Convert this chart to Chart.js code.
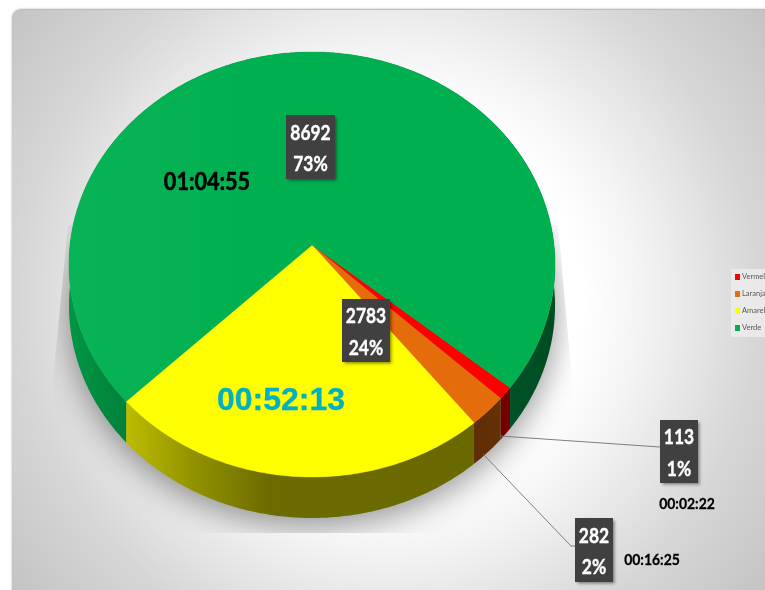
<!DOCTYPE html>
<html><head><meta charset="utf-8">
<style>html,body{margin:0;padding:0;background:#fff;overflow:hidden}canvas{display:block}</style>
<script src="https://cdn.jsdelivr.net/npm/chart.js@4"></script>
</head><body><canvas id="c" width="765" height="590"></canvas>
<script>
const categories = ['Vermelho','Laranja','Amarelo','Verde'];
const counts = [113,282,2783,8692];
const percents = ['1%','2%','24%','73%'];
const durations = ['00:02:22','00:16:25','00:52:13','01:04:55'];
const colors = ['#ff0000','#e46c0a','#ffff00','#00b050'];

// perspective of the disc
const AP = {x:312,y:245,a:242,b:210.7,k:-0.0918,depth:41};
const proj = (t)=>{const u=Math.cos(t),v=Math.sin(t),w=1+AP.k*v;return [AP.x+AP.a*u/w,AP.y+AP.b*v/w];};
function mul(hex,m){const n=parseInt(hex.slice(1),16);return `rgb(${Math.round((n>>16&255)*m)},${Math.round((n>>8&255)*m)},${Math.round((n&255)*m)})`;}
const wallStops=[[69,.85],[125,.74],[190,.58],[270,.42],[470,.41],[510,.46],[555,.43]];
function rim(ctx,s,e,dy,rev){
  const n=Math.max(4,Math.ceil((e-s)/0.01));
  for(let i=0;i<=n;i++){const t=rev?e-(e-s)*i/n:s+(e-s)*i/n;const p=proj(t);ctx.lineTo(p[0],p[1]+dy);}
}
function whole(ctx,dy){ctx.beginPath();rim(ctx,0,Math.PI*2,dy);ctx.closePath();}
function squeezed(ctx,text,x,y,sx,heavy){
  ctx.save();ctx.translate(x,y);ctx.scale(sx,1);ctx.fillText(text,0,0);
  if(heavy){ctx.lineWidth=heavy;ctx.strokeStyle=ctx.fillStyle;ctx.strokeText(text,0,0);}
  ctx.restore();
}

const boxes=[
 {i:0,x:660,y:420,w:38,h:63},{i:1,x:575,y:518,w:38,h:64},
 {i:2,x:342,y:299,w:48,h:63},{i:3,x:286,y:115,w:49,h:64}];
const timeTexts=[
 {i:0,x:687,y:504,font:'bold 15px Lato',color:'#000',sx:.93,heavy:.3},
 {i:1,x:652,y:560,font:'bold 15px Lato',color:'#000',sx:.93,heavy:.3},
 {i:2,x:281,y:401,font:'bold 32px "Liberation Sans"',color:'#00b0c4',sx:1,heavy:.3},
 {i:3,x:207,y:182,font:'bold 24px Lato',color:'#000',sx:.9,heavy:.5}];
const leaders=[[[500,436],[660,447]],[[483,454],[571,546],[575,546]]];

const pie3d={
 id:'pie3d',
 beforeDraw(chart){
  const ctx=chart.ctx;
  ctx.save();
  ctx.fillStyle='#fff';ctx.fillRect(0,0,765,590);
  const g=ctx.createRadialGradient(390,300,0,390,300,480);
  g.addColorStop(0,'#ffffff');g.addColorStop(.4,'#ffffff');g.addColorStop(.52,'#f4f4f4');g.addColorStop(.64,'#e6e6e6');g.addColorStop(.77,'#d6d6d6');g.addColorStop(1,'#c3c3c3');
  ctx.beginPath();ctx.roundRect(12,10,800,640,9);
  ctx.shadowColor='rgba(0,0,0,.35)';ctx.shadowBlur=2;ctx.shadowOffsetY=-1;
  ctx.fillStyle=g;ctx.fill();
  ctx.restore();
 },
 beforeDatasetDraw(chart,args){
  const ctx=chart.ctx,arcs=chart.getDatasetMeta(args.index).data;
  // soft shadow, cut to the reference's slanted shadow shape
  ctx.save();
  ctx.beginPath();ctx.moveTo(68,225);ctx.lineTo(558,225);ctx.lineTo(572,380);ctx.lineTo(572,533);ctx.lineTo(53,533);ctx.lineTo(53,380);ctx.closePath();ctx.clip();
  ctx.shadowColor='rgba(0,0,0,.42)';ctx.shadowBlur=32;ctx.shadowOffsetX=2000;ctx.shadowOffsetY=8;
  ctx.translate(-2000,0);whole(ctx,AP.depth);ctx.fillStyle='#000';ctx.fill();
  ctx.restore();
  // side walls
  const wg=(c)=>{const g=ctx.createLinearGradient(69,0,555,0);wallStops.forEach(s=>g.addColorStop((s[0]-69)/486,mul(c,s[1])));return g;};
  arcs.forEach((a,i)=>{
   ctx.beginPath();rim(ctx,a.startAngle,a.endAngle,0);rim(ctx,a.startAngle,a.endAngle,AP.depth,true);ctx.closePath();
   ctx.fillStyle=wg(colors[i]);ctx.fill();
  });
  // top face
  arcs.forEach((a,i)=>{
   ctx.beginPath();ctx.moveTo(AP.x,AP.y);rim(ctx,a.startAngle,a.endAngle,0);ctx.closePath();
   ctx.fillStyle=colors[i];ctx.fill();ctx.strokeStyle=colors[i];ctx.lineWidth=.4;ctx.stroke();
  });
  // faint sheen on the left of the top face
  const sh=ctx.createLinearGradient(69,0,240,0);
  sh.addColorStop(0,'rgba(255,255,255,.035)');sh.addColorStop(1,'rgba(255,255,255,0)');
  whole(ctx,0);ctx.fillStyle=sh;ctx.fill();
  return false;
 },
 afterDatasetsDraw(chart){
  const ctx=chart.ctx;
  ctx.save();
  ctx.strokeStyle='#7f7f7f';ctx.lineWidth=1;
  leaders.forEach(l=>{ctx.beginPath();l.forEach((p,j)=>j?ctx.lineTo(p[0],p[1]):ctx.moveTo(p[0],p[1]));ctx.stroke();});
  ctx.textAlign='center';ctx.textBaseline='middle';
  boxes.forEach(b=>{
   ctx.save();ctx.shadowColor='rgba(0,0,0,.45)';ctx.shadowBlur=3;ctx.shadowOffsetX=1.5;ctx.shadowOffsetY=1.5;
   ctx.fillStyle='#404040';ctx.fillRect(b.x,b.y,b.w,b.h);ctx.restore();
   ctx.fillStyle='#fff';ctx.font='bold 21px Lato';
   squeezed(ctx,String(counts[b.i]),b.x+b.w/2,b.y+b.h*.28,.83,.4);
   squeezed(ctx,percents[b.i],b.x+b.w/2,b.y+b.h*.775,.83,.4);
  });
  timeTexts.forEach(t=>{ctx.fillStyle=t.color;ctx.font=t.font;squeezed(ctx,durations[t.i],t.x,t.y,t.sx,t.heavy);});
  // legend, cut by the window edge as in the reference
  ctx.fillStyle='rgba(235,235,235,.9)';ctx.fillRect(731,269,34,68);
  ctx.textAlign='left';ctx.font='7.5px Lato';
  categories.forEach((c,i)=>{
   const y=277+i*17;
   ctx.fillStyle=colors[i];ctx.fillRect(735,y-3,5,6);
   ctx.fillStyle='#595959';ctx.fillText(c,742,y);
  });
  ctx.restore();
 }
};

new Chart(document.getElementById('c'),{
 type:'pie',
 data:{labels:categories,datasets:[{data:counts,backgroundColor:colors,borderWidth:0}]},
 options:{responsive:false,animation:false,rotation:129.6,
  layout:{padding:0},
  plugins:{legend:{display:false},tooltip:{enabled:false}}},
 plugins:[pie3d]
});
</script></body></html>
